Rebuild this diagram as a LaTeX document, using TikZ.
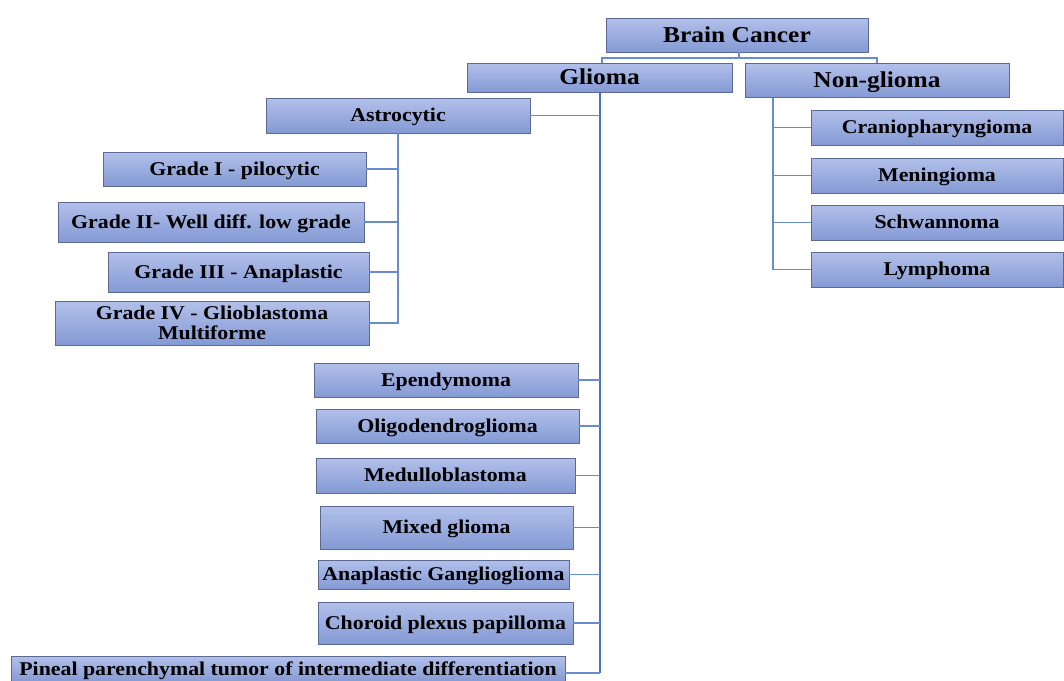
\documentclass[tikz,border=0pt]{standalone}
\usepackage{fontspec}
\setmainfont[FakeStretch=1.12]{Liberation Serif}
\begin{document}
\begin{tikzpicture}[x=1pt,y=-1pt,
  boxcore/.style={draw={rgb,255:red,92;green,106;blue,146}, line width=0.9pt,
    top color={rgb,255:red,178;green,192;blue,234}, bottom color={rgb,255:red,132;green,154;blue,212},
    inner sep=0pt, align=center, font=\bfseries\fontsize{19.5}{20}\selectfont, text=black},
  boxbase/.style={boxcore, text height=16.8pt, text depth=4.3pt},
  bigbox/.style={boxcore, text height=19.5pt, text depth=5pt, font=\bfseries\fontsize{22.7}{24}\selectfont},
  conn/.style={draw={rgb,255:red,104;green,140;blue,206}, line width=1.2pt},
  trunk/.style={draw={rgb,255:red,68;green,114;blue,196}, line width=1.8pt}]
\useasboundingbox (0,0) rectangle (1064,680);
\node[bigbox, minimum width=262pt, minimum height=34pt] (bc) at (737,35) {Brain Cancer};
\node[bigbox, minimum width=265pt, minimum height=29pt] (gl) at (599.5,77.5) {Glioma};
\node[bigbox, minimum width=264pt, minimum height=34pt] (ng) at (877,80.5) {Non-glioma};
\node[boxbase, minimum width=264pt, minimum height=35pt] (as) at (398,115.5) {Astrocytic};
\node[boxbase, minimum width=263pt, minimum height=34pt] (g1) at (234.5,169) {Grade I - pilocytic};
\node[boxbase, minimum width=306pt, minimum height=40pt] (g2) at (211,222) {Grade II- Well diff. low grade};
\node[boxbase, minimum width=261pt, minimum height=40pt] (g3) at (238.5,272) {Grade III - Anaplastic};
\node[boxcore, minimum width=314pt, minimum height=44pt] (g4) at (212,323) {Grade IV - Glioblastoma\\Multiforme};
\node[boxbase, minimum width=264pt, minimum height=34pt] (ep) at (446,380) {Ependymoma};
\node[boxbase, minimum width=263pt, minimum height=34pt] (ol) at (447.5,426) {Oligodendroglioma};
\node[boxbase, minimum width=259pt, minimum height=35pt] (me) at (445.5,475.5) {Medulloblastoma};
\node[boxbase, minimum width=253pt, minimum height=43pt] (mi) at (446.5,527.5) {Mixed glioma};
\node[boxbase, minimum width=251pt, minimum height=29pt] (an) at (443.5,574.5) {Anaplastic Ganglioglioma};
\node[boxbase, minimum width=255pt, minimum height=42pt] (ch) at (445.5,623) {Choroid plexus papilloma};
\node[boxbase, minimum width=554pt, minimum height=26pt] (pi) at (288,669) {Pineal parenchymal tumor of intermediate differentiation};
\node[boxbase, minimum width=252pt, minimum height=35pt] (cr) at (937,127.5) {Craniopharyngioma};
\node[boxbase, minimum width=252pt, minimum height=35pt] (mn) at (937,175.5) {Meningioma};
\node[boxbase, minimum width=252pt, minimum height=35pt] (sc) at (937,222.5) {Schwannoma};
\node[boxbase, minimum width=252pt, minimum height=35pt] (ly) at (937,269.5) {Lymphoma};
% top level connectors
\coordinate (hb) at (739,58);
\draw[conn] (bc.south -| hb) -- (hb) -- (hb -| 602,0) -- (gl.north -| 602,0);
\draw[conn] (hb) -- (hb -| ng.north) -- (ng.north);
% glioma trunk
\coordinate (tb) at (600,673);
\draw[trunk] (gl.south -| tb) -- (tb);
\foreach \n in {as,ep,ol,me,mi,an,ch} \draw[conn] (\n.east) -- (\n.east -| tb);
\draw[conn] (pi.east |- tb) -- (tb);
% astrocytic
\draw[conn] (as.south) -- (as.south |- g4.east) -- (g4.east);
\foreach \n in {g1,g2,g3} \draw[conn] (\n.east) -- (\n.east -| as.south);
% non-glioma
\coordinate (nx) at (773,0);
\draw[conn] (ng.south -| nx) -- (ly.west -| nx) -- (ly.west);
\foreach \n in {cr,mn,sc} \draw[conn] (\n.west) -- (\n.west -| nx);
\end{tikzpicture}
\end{document}
